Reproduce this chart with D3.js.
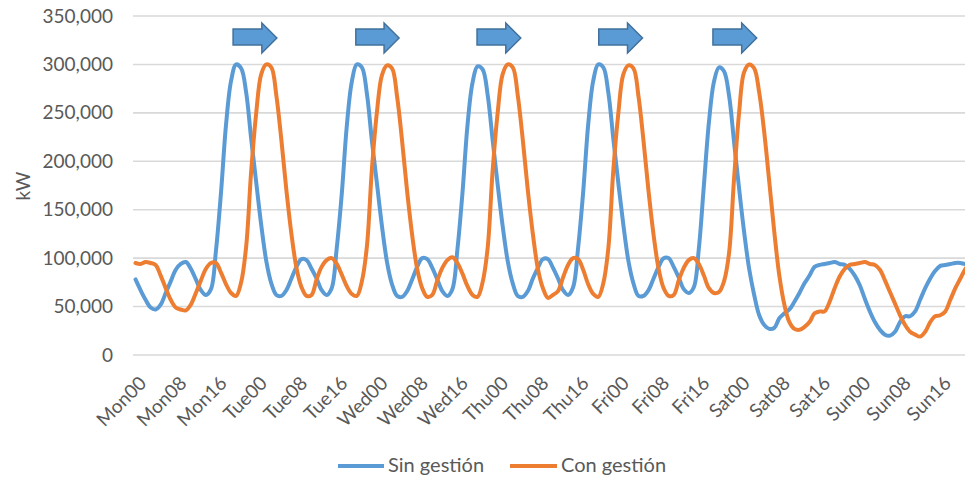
<!DOCTYPE html>
<html>
<head>
<meta charset="utf-8">
<script src="https://cdn.jsdelivr.net/npm/d3@7"></script>
<style>
  html, body { margin: 0; padding: 0; background: #ffffff; }
  svg { display: block; font-family: Lato, "Open Sans", sans-serif; }
</style>
</head>
<body>
<svg id="chart" width="965" height="478"></svg>
<script>
// Weekly hourly demand profile (kW), Monday 00h to Sunday 23h
const days = ["Mon", "Tue", "Wed", "Thu", "Fri", "Sat", "Sun"];
const hourLabels = ["00","01","02","03","04","05","06","07","08","09","10","11",
                    "12","13","14","15","16","17","18","19","20","21","22","23"];

// Hourly load without demand management
const sinGestion = [
  // Mon
  78000, 67000, 57000, 49000, 47000, 52000, 64000, 76000, 88000, 94000, 96000, 89000,
  78000, 67000, 62000, 68000, 108000, 168000, 238000, 283000, 300000, 296000, 271000, 223000,
  // Tue
  178000, 134000, 97000, 74000, 62000, 61000, 67000, 79000, 91000, 99000, 98000, 89000,
  79000, 67000, 62000, 69000, 110000, 166000, 236000, 282000, 300000, 297000, 270000, 221000,
  // Wed
  177000, 133000, 96000, 73000, 61000, 60000, 66000, 78000, 91000, 100000, 99000, 90000,
  78000, 66000, 61000, 68000, 109000, 167000, 237000, 281000, 298000, 295000, 269000, 222000,
  // Thu
  176000, 133000, 97000, 74000, 61000, 60000, 66000, 79000, 90000, 99000, 99000, 90000,
  79000, 67000, 62000, 70000, 111000, 168000, 238000, 283000, 300000, 297000, 271000, 223000,
  // Fri
  177000, 134000, 97000, 74000, 61000, 61000, 67000, 79000, 91000, 100000, 100000, 91000,
  80000, 68000, 64000, 70000, 110000, 175000, 240000, 282000, 297000, 293000, 268000, 220000,
  // Sat
  172000, 127000, 89000, 62000, 41000, 31000, 27000, 28000, 38000, 43000, 47000, 55000,
  64000, 74000, 82000, 91000, 93000, 94000, 95000, 96000, 94000, 93000, 89000, 82000,
  // Sun
  72000, 58000, 45000, 34000, 26000, 21000, 20000, 24000, 34000, 40000, 40000, 45000,
  57000, 69000, 79000, 87000, 92000, 93000, 94000, 95000, 95000, 94000, 95000, 96000
];

// Hourly load with demand management (peak shifted later)
const conGestion = [
  // Mon
  95000, 94000, 96000, 95000, 93000, 82000, 69000, 57000, 49000, 47000, 46000, 52000,
  64000, 77000, 89000, 95000, 95000, 85000, 73000, 64000, 61000, 75000, 112000, 190000,
  // Tue
  250000, 290000, 300000, 297000, 268000, 222000, 170000, 125000, 90000, 70000, 61000, 62000,
  78000, 91000, 98000, 100000, 94000, 83000, 71000, 63000, 61000, 76000, 112000, 192000,
  // Wed
  251000, 289000, 299000, 296000, 267000, 221000, 169000, 124000, 89000, 69000, 60000, 62000,
  77000, 90000, 98000, 101000, 95000, 84000, 71000, 62000, 60000, 75000, 110000, 190000,
  // Thu
  250000, 290000, 300000, 297000, 268000, 222000, 170000, 125000, 89000, 69000, 59000, 62000,
  66000, 80000, 93000, 100000, 99000, 88000, 73000, 63000, 60000, 74000, 110000, 191000,
  // Fri
  250000, 290000, 299000, 296000, 267000, 221000, 169000, 124000, 89000, 69000, 61000, 62000,
  77000, 90000, 98000, 100000, 94000, 82000, 69000, 64000, 65000, 76000, 105000, 182000,
  // Sat
  250000, 292000, 300000, 296000, 271000, 230000, 179000, 127000, 82000, 52000, 34000, 27000,
  26000, 29000, 34000, 43000, 45000, 45000, 55000, 69000, 81000, 89000, 93000, 94000,
  // Sun
  95000, 96000, 94000, 93000, 88000, 77000, 65000, 53000, 41000, 31000, 24000, 21000,
  19000, 24000, 34000, 40000, 41000, 45000, 57000, 69000, 79000, 89000, 95000, 98000
];

const yTickValues = [0, 50000, 100000, 150000, 200000, 250000, 300000, 350000];
const xTickIndices = [0, 8, 16, 24, 32, 40, 48, 56, 64, 72, 80, 88, 96, 104, 112, 120, 128, 136, 144, 152, 160];

// Peak-shift arrows: start and end hour of each arrow
const shiftArrows = [
  { from: 19.4, to: 28.1 },
  { from: 43.8, to: 52.4 },
  { from: 67.9, to: 76.6 },
  { from: 92.1, to: 100.8 },
  { from: 114.8, to: 123.5 }
];

const seriesNames = ["Sin gestión", "Con gestión"];
const seriesColors = ["#5B9BD5", "#ED7D31"];

const categories = [];
days.forEach(d => hourLabels.forEach(h => categories.push(d + h)));

const svg = d3.select("#chart");
const plotLeft = 133, plotRight = 978, plotTop = 16, plotBottom = 355;

const x = d3.scaleLinear().domain([-0.5, categories.length - 0.5]).range([plotLeft, plotRight]);
const y = d3.scaleLinear().domain([0, 350000]).range([plotBottom, plotTop]);

const textColor = "#595959";

// Horizontal gridlines
svg.append("g")
  .selectAll("line")
  .data(yTickValues)
  .join("line")
  .attr("x1", plotLeft).attr("x2", plotRight)
  .attr("y1", d => y(d)).attr("y2", d => y(d))
  .attr("stroke", "#D9D9D9")
  .attr("stroke-width", 1.6);

// Y axis
const yAxis = svg.append("g")
  .attr("transform", `translate(${plotLeft},0)`)
  .call(d3.axisLeft(y).tickValues(yTickValues).tickFormat(d3.format(",")).tickSize(0).tickPadding(20));
yAxis.select(".domain").remove();
yAxis.selectAll("text")
  .attr("fill", textColor)
  .style("font-size", "19px")
  .style("font-family", "Lato, sans-serif");

// X axis with rotated hour labels
const xAxis = svg.append("g")
  .attr("transform", `translate(0,${plotBottom})`)
  .call(d3.axisBottom(x).tickValues(xTickIndices).tickFormat(i => categories[i]).tickSize(0));
xAxis.select(".domain").remove();
xAxis.selectAll("text")
  .attr("fill", textColor)
  .attr("y", null)
  .attr("dy", null)
  .attr("text-anchor", "end")
  .attr("transform", "translate(11.5,29.5) rotate(-45)")
  .style("font-size", "19px")
  .style("font-family", "Lato, sans-serif");

// Y axis title
svg.append("text")
  .attr("transform", "translate(30,186) rotate(-90)")
  .attr("text-anchor", "middle")
  .attr("fill", textColor)
  .style("font-size", "19px")
  .text("kW");

// Load curves
const line = d3.line()
  .x((d, i) => x(i))
  .y(d => y(d))
  .curve(d3.curveCatmullRom.alpha(0.5));

[sinGestion, conGestion].forEach((series, k) => {
  svg.append("path")
    .datum(series)
    .attr("fill", "none")
    .attr("stroke", seriesColors[k])
    .attr("stroke-width", 4)
    .attr("stroke-linejoin", "round")
    .attr("stroke-linecap", "round")
    .attr("d", line);
});

// Block arrows marking the shift of each evening peak
const arrowTop = 29, arrowBottom = 45, headTop = 23, headBottom = 53;
svg.append("g")
  .selectAll("path")
  .data(shiftArrows)
  .join("path")
  .attr("d", d => {
    const x0 = x(d.from), x2 = x(d.to);
    const x1 = x2 - 15;
    const mid = (headTop + headBottom) / 2;
    return `M${x0},${arrowTop} L${x1},${arrowTop} L${x1},${headTop} L${x2},${mid} ` +
           `L${x1},${headBottom} L${x1},${arrowBottom} L${x0},${arrowBottom} Z`;
  })
  .attr("fill", "#5B9BD5")
  .attr("stroke", "#41719C")
  .attr("stroke-width", 1.5)
  .attr("stroke-linejoin", "miter");

// Legend
const legendItems = [
  { x1: 338, x2: 384, tx: 388 },
  { x1: 510, x2: 557, tx: 561 }
];
const legend = svg.append("g");
legendItems.forEach((p, k) => {
  legend.append("line")
    .attr("x1", p.x1).attr("x2", p.x2)
    .attr("y1", 466).attr("y2", 466)
    .attr("stroke", seriesColors[k])
    .attr("stroke-width", 4);
  legend.append("text")
    .attr("x", p.tx).attr("y", 472)
    .attr("fill", textColor)
    .style("font-size", "20px")
    .text(seriesNames[k]);
});
</script>
</body>
</html>
